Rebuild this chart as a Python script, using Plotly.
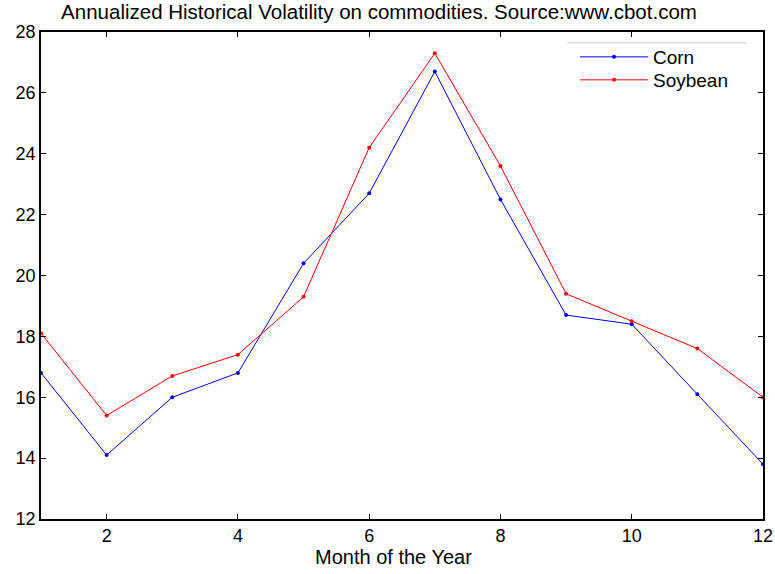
import plotly.graph_objects as go

months = [1, 2, 3, 4, 5, 6, 7, 8, 9, 10, 11, 12]
corn = [16.8, 14.1, 16.0, 16.8, 20.4, 22.7, 26.7, 22.5, 18.7, 18.4, 16.1, 13.8]
soybean = [18.1, 15.4, 16.7, 17.4, 19.3, 24.2, 27.3, 23.6, 19.4, 18.5, 17.6, 16.0]
x_ticks = [2, 4, 6, 8, 10, 12]
y_ticks = [12, 14, 16, 18, 20, 22, 24, 26, 28]

FONT = "Liberation Sans, Arial, sans-serif"

fig = go.Figure()
fig.add_trace(go.Scatter(x=months, y=corn, name="Corn", mode="lines+markers",
                         line=dict(color="#0000ff", width=1), marker=dict(size=4, color="#0000ff"),
                         cliponaxis=False, legend="legend"))
fig.add_trace(go.Scatter(x=months, y=soybean, name="Soybean", mode="lines+markers",
                         line=dict(color="#ff0000", width=1), marker=dict(size=4, color="#ff0000"),
                         cliponaxis=False, legend="legend2"))

axis_common = dict(showgrid=False, zeroline=False, showline=True, linecolor="black", linewidth=1.5,
                   mirror="allticks", ticks="inside", ticklen=5, tickcolor="black",
                   automargin=False,
                   tickfont=dict(family=FONT, size=18, color="black"))

leg_common = dict(xanchor="left", yanchor="middle", bgcolor="rgba(255,255,255,0)", borderwidth=0,
                  font=dict(family=FONT, size=19, color="black"), itemwidth=68)

fig.update_layout(
    width=775, height=574,
    margin=dict(l=41, r=12, t=32, b=55),
    paper_bgcolor="white", plot_bgcolor="white",
    font=dict(family=FONT, color="black", size=18),
    title=dict(text="Annualized Historical Volatility on commodities. Source:www.cbot.com",
               x=379 / 775, xanchor="center", xref="container",
               y=1 - 11.5 / 574, yanchor="middle", yref="container",
               font=dict(family=FONT, size=20.5, color="black")),
    xaxis=dict(range=[1, 12], tickvals=x_ticks, **axis_common),
    yaxis=dict(range=[12, 28], tickvals=y_ticks, **axis_common),
    legend=dict(x=(575 - 41) / 722, y=1 - (57 - 32) / 487, **leg_common),
    legend2=dict(x=(575 - 41) / 722, y=1 - (80 - 32) / 487, **leg_common),
    showlegend=True,
    annotations=[dict(text="Month of the Year", xref="paper", yref="paper",
                      x=(393 - 41) / 722, y=-(557 - 519) / 487, xanchor="center", yanchor="middle",
                      showarrow=False, font=dict(family=FONT, size=20, color="black"))],
)
fig.add_shape(type="line", xref="paper", yref="paper",
              x0=(567 - 41) / 722, x1=(747 - 41) / 722,
              y0=1 - (42.7 - 32) / 487, y1=1 - (42.7 - 32) / 487,
              line=dict(color="#e0e0e0", width=2))

fig.write_html("out.html", config={"displayModeBar": False},
               post_script="document.body.style.margin='0';document.body.style.overflow='hidden';")
